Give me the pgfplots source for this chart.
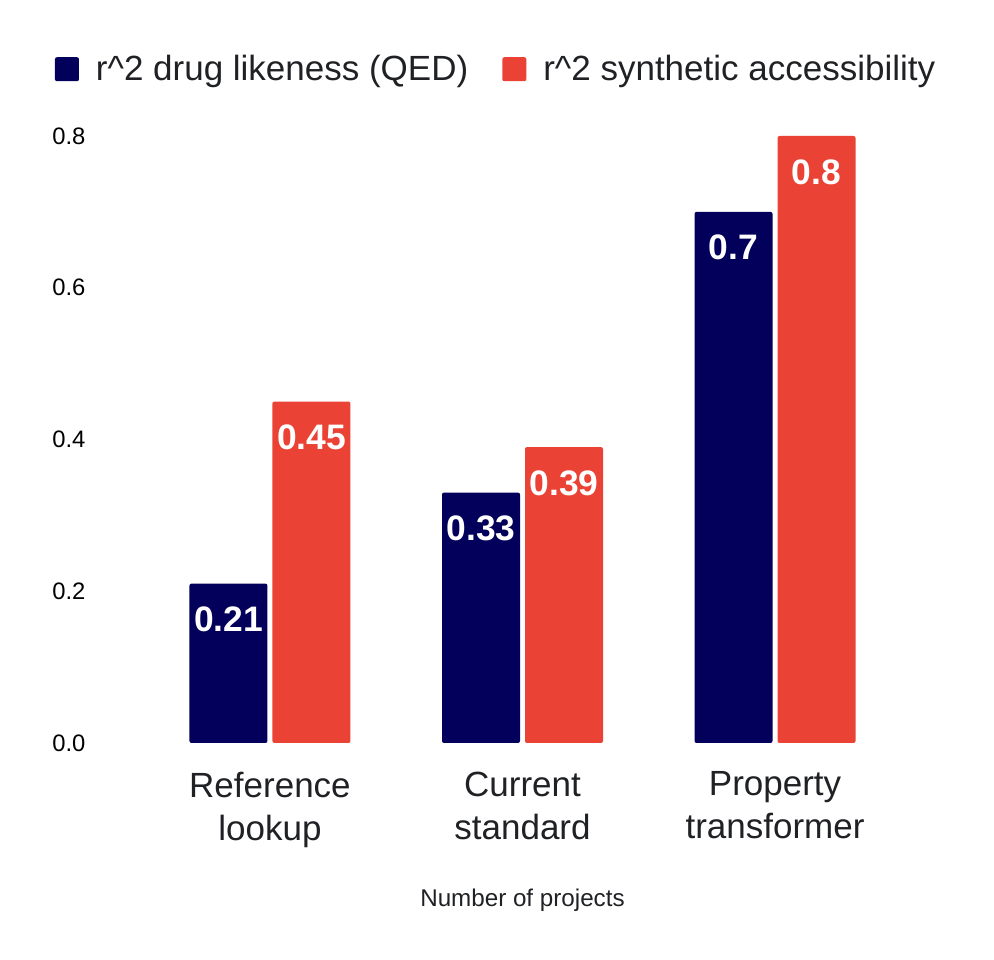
\documentclass[border=0pt]{standalone}
\usepackage{pgfplots}
\pgfplotsset{compat=1.18}
\usepackage{fontspec}
\setmainfont{Liberation Sans}

\definecolor{qedblue}{HTML}{02005A}
\definecolor{sared}{HTML}{EA4335}
\definecolor{labelgray}{HTML}{202124}

\begin{document}
\begin{tikzpicture}
\begin{axis}[
  scale only axis,
  width=422.5pt, height=303.5pt,
  xmin=-0.673, xmax=2.673,
  ymin=0, ymax=0.8,
  enlarge x limits=false, enlarge y limits=false,
  axis line style={draw=none},
  tick style={draw=none},
  ybar=2.5pt,
  bar width=39pt,
  xtick={0,1,2},
  xticklabels={{Reference\\lookup},{Current\\standard},{Property\\transformer}},
  xticklabel style={align=center, anchor=north, inner sep=0pt, yshift=-10pt,
    font=\fontsize{17.5}{21.5}\selectfont, text=labelgray},
  ytick={0,0.2,0.4,0.6,0.8},
  yticklabel style={anchor=west, inner sep=0pt, xshift=-24pt,
    font=\fontsize{11.9}{14}\selectfont, text=black},
  /pgf/number format/assume math mode=true,
  /pgf/number format/fixed, /pgf/number format/fixed zerofill,
  /pgf/number format/precision=1,
  xlabel={Number of projects},
  xlabel style={font=\fontsize{12.1}{14}\selectfont, text=labelgray,
    at={(rel axis cs:0.5,0)}, anchor=center, yshift=-78.5pt},
  nodes near coords,
  nodes near coords style={anchor=north, inner sep=0pt, yshift=-11.5pt,
    font=\fontsize{17.7}{20}\bfseries\selectfont, text=white,
    /pgf/number format/precision=2, /pgf/number format/fixed zerofill=false},
  legend columns=2,
  legend style={draw=none, fill=none, inner sep=0pt, outer sep=0pt,
    at={(rel axis cs:-0.0533,1.110)}, anchor=west,
    font=\fontsize{17.5}{20}\selectfont, text=labelgray,
    nodes={inner sep=0pt},
    /tikz/column sep=8.5pt,
    /tikz/every even column/.append style={column sep=17pt}},
  legend image code/.code={\fill[#1] (0pt,-6pt) rectangle (12pt,6pt);},
]
\addplot[fill=qedblue, draw=none, rounded corners=1pt] coordinates {(0,0.21) (1,0.33) (2,0.7)};
\addlegendentry{r\^{}2 drug likeness (QED)}
\addplot[fill=sared, draw=none, rounded corners=1pt] coordinates {(0,0.45) (1,0.39) (2,0.8)};
\addlegendentry{r\^{}2 synthetic accessibility}
\end{axis}
\pgfresetboundingbox
\useasboundingbox ([shift={(-50pt,-108.5pt)}]current axis.south west)
  rectangle ([shift={(24.5pt,68pt)}]current axis.north east);
\end{tikzpicture}
\end{document}
